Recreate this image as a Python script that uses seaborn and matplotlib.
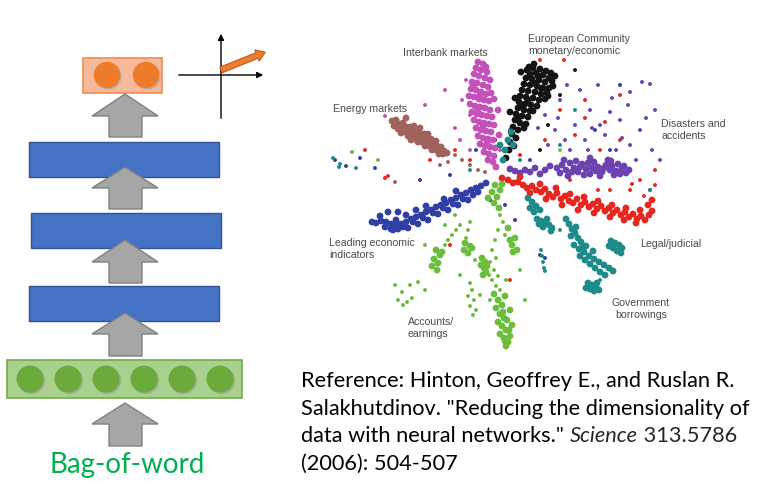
import matplotlib
matplotlib.use("Agg")
import matplotlib.pyplot as plt
import matplotlib.patches as mpatches
import seaborn as sns
import pandas as pd

# ---------------- data (pixel-like coordinates) ----------------
clusters = ["European Community", "Interbank", "Energy", "Disasters", "Legal",
            "Leading", "Accounts", "Government"]
palette = {
    "European Community": "#141414",
    "Interbank": "#c451b8",
    "Energy": "#a2625c",
    "Disasters": "#6b42b0",
    "Legal": "#e5281f",
    "Leading": "#2f3fa6",
    "Accounts": "#6cbd3d",
    "Government": "#1e8b8b",
}

# dense cores of each topic
ec_core = [(527,70),(533,68),(540,69),(546,71),(551,73),(530,74),(536,73),(543,75),(549,78),(526,78),
           (532,79),(539,80),(545,82),(552,81),(524,84),(530,85),(537,86),(543,88),(549,88),(522,90),
           (528,91),(535,92),(541,94),(547,93),(520,96),(526,97),(533,98),(539,100),(545,99),(519,102),
           (525,104),(531,105),(537,106),(518,108),(524,110),(530,111),(516,114),(522,116),(528,117),
           (515,120),(520,123),(526,124),(513,127),(518,130),(512,134),(516,138),(510,142),(514,146),
           (509,150),(506,158),(555,76),(521,72),(534,64),(553,86),(515,98),(548,96),(510,112),
           (529,67),(538,76),(534,83),(541,88),(528,100),(522,105),(533,111),(519,117),(524,128)]
interbank_core = [(478,62),(483,64),(486,67),(476,68),(481,70),(487,72),(474,74),(479,76),(485,78),(490,80),
                  (472,82),(477,83),(483,85),(488,87),(471,89),(476,90),(481,92),(486,94),(491,93),(469,96),
                  (474,97),(479,99),(484,100),(489,101),(494,99),(470,104),(475,106),(480,107),(485,108),
                  (490,110),(472,112),(477,114),(482,115),(487,116),(492,117),(474,120),(479,122),(484,123),
                  (489,124),(494,125),(476,128),(481,130),(486,131),(491,132),(478,136),(483,138),(488,139),
                  (493,140),(480,144),(485,146),(490,147),(495,148),(484,152),(489,154),(494,156),(488,160),
                  (493,162),(496,167),(498,110),(499,135),(473,86),(480,95),(478,111),(483,126),(487,143)]
energy_core = [(392,121),(396,120),(394,126),(399,124),(403,123),(398,129),(402,128),(406,127),(410,127),
               (401,133),(405,132),(409,131),(413,131),(417,130),(408,136),(412,135),(416,134),(420,134),
               (424,134),(411,140),(415,139),(419,138),(423,138),(427,138),(431,139),(418,142),(422,142),
               (426,141),(430,142),(434,143),(425,146),(429,146),(433,146),(437,146),(441,147),(432,150),
               (436,150),(440,150),(444,151),(439,154),(443,154),(447,153),(406,118),(414,126),(420,128),
               (428,134),(436,141)]
disasters_core = [(557,168),(562,165),(566,170),(570,163),(574,168),(578,172),(582,164),(586,169),(590,174),
                  (594,162),(598,167),(602,172),(606,165),(610,170),(614,175),(618,164),(622,169),(626,173),
                  (560,173),(568,176),(576,161),(584,175),(592,168),(600,176),(608,160),(616,171),(624,166),
                  (629,170),(572,172),(580,167),(588,163),(596,171),(604,168),(612,166),(620,174),(564,160),
                  (590,158),(611,161),(545,170),(540,174),(535,168),(530,172),(525,170),(520,173),(515,171),
                  (510,169),(550,166)]
legal_core = [(502,178),(508,180),(513,183),(518,182),(523,185),(527,188),(532,186),(536,190),(541,192),
              (545,189),(549,194),(553,197),(557,193),(561,199),(565,196),(569,201),(573,203),(577,199),
              (581,205),(585,202),(589,207),(593,204),(597,209),(601,206),(605,211),(609,208),(613,213),
              (617,210),(621,215),(625,212),(629,217),(633,214),(637,219),(641,216),(645,220),(649,215),
              (652,211),(540,184),(556,188),(570,194),(584,197),(598,201),(612,205),(626,208),(640,210),
              (530,193),(546,199),(562,205),(578,210),(594,213),(610,217),(624,220),(636,223),(520,177),
              (648,205),(652,200)]
leading_core = [(486,183),(481,186),(476,188),(471,190),(466,193),(461,195),(456,198),(451,200),(446,203),
                (441,205),(436,207),(431,210),(426,212),(421,215),(416,217),(411,219),(406,222),(401,224),
                (396,226),(391,224),(386,222),(381,221),(376,223),(473,195),(463,199),(453,204),(443,208),
                (433,213),(423,218),(413,222),(403,227),(398,229),(408,228),(418,224),(428,220),(438,214),
                (448,210),(458,205),(468,200),(478,192),(396,220),(406,215),(416,210),(426,206),(391,229),
                (385,227),(380,216),(388,212),(398,212),(372,222),(444,199),(456,191),(393,230)]
accounts_core = [(495,185),(500,190),(492,192),(497,197),(502,184),(488,198),(494,203),(499,208),
                 (436,250),(440,255),(434,259),(438,263),(432,266),(437,270),(442,252),
                 (465,243),(470,246),(464,250),(468,253),(472,248),
                 (482,258),(485,262),(481,265),(484,268),(486,272),(483,275),(487,266),
                 (508,228),(510,240),(512,245),(515,238),(517,250),(513,252),
                 (494,294),(498,300),(502,305),(496,308),(500,314),(504,318),(498,322),(502,326),
                 (506,330),(500,334),(504,338),(508,342),(506,346),(510,336),(507,320),(505,296),(510,310),
                 (512,325),(503,312),(509,330),(505,341)]
government_core = [(537,219),(541,221),(545,223),(549,225),(552,228),(543,227),(539,224),(547,219),(551,231),
                   (566,219),(569,224),(572,229),(575,233),(578,238),(581,242),(583,246),(571,236),(576,227),
                   (574,245),(579,249),(584,252),(589,256),(594,259),(599,262),(604,265),(609,268),(613,271),
                   (580,256),(585,260),(590,264),(595,268),(600,272),(605,275),(586,246),(593,251),
                   (611,241),(615,243),(619,245),(622,248),(613,248),(617,251),(621,253),(614,245),(609,246),
                   (588,283),(592,285),(596,287),(599,290),(590,289),(594,291),(597,283),(586,288),
                   (528,198),(532,202),(536,206),(540,210),(530,208),(534,212),
                   (505,150),(508,140),(511,132),(503,160),(500,145),(513,145)]

# sparse stray documents of each topic
ec_stray = [(540,150),(560,95),(575,70),(495,140),(548,125)]
interbank_stray = [(466,80),(470,115),(462,100),(455,128),(500,150),(425,105),(445,90),(385,116),
                   (460,140),(470,150)]
energy_stray = [(455,155),(462,160),(470,165),(478,170),(485,172),(448,162),(395,182),(440,165)]
disasters_stray = [(545,115),(560,100),(575,125),(590,110),(605,135),(620,120),(630,145),(612,98),
                   (585,140),(565,140),(640,130),(652,150),(642,82),(650,84),(598,85),(555,130),(628,105),
                   (580,90),(616,150),(600,125),(548,145),(660,160),(636,160),(655,110),(567,85),(592,128),
                   (622,138),(538,128),(646,118),(570,150),(610,112),(630,92),(588,150),(558,118)]
legal_stray = [(650,190),(560,110),(585,100),(620,140),(640,180),(655,185),(630,190),(600,150),(575,135),
               (540,60),(564,60),(545,140),(610,190),(520,155),(470,160),(455,150),(430,160),(450,245),
               (510,280),(620,95),(655,170),(385,178),(388,176),(365,150),(644,196),(632,184),(605,122),
               (585,118),(598,190),(570,180)]
leading_stray = [(490,200),(505,205),(515,220),(530,160),(450,175),(420,180),(540,255),(545,258),
                 (476,150),(620,85),(510,130),(335,160),(346,166),(360,158),(375,168),(595,130),(610,150)]
accounts_stray = [(460,225),(456,230),(452,235),(448,240),(445,245),(470,222),(468,230),(466,238),
                  (470,283),(472,290),(468,296),(474,300),(470,306),(476,310),(473,315),
                  (418,282),(410,285),(402,292),(398,300),(403,305),(412,298),(425,290),
                  (500,215),(503,222),(498,230),(505,235),(495,240),(492,250),(496,258),(490,262),(494,270),
                  (498,276),(492,280),(496,286),(500,290),(490,300),(489,275),(506,280),
                  (455,215),(475,260),(460,275),(425,245),(480,295),(520,270),(525,300),(445,225),
                  (378,160),(352,152),(560,150),(407,302),(395,285)]
government_stray = [(541,250),(542,256),(543,262),(544,268),(545,271),(520,160),(560,145),(340,164),
                    (356,168),(575,110),(650,190),(470,170),(333,158),(339,167),(600,280),(560,230)]

core_lists = [ec_core, interbank_core, energy_core, disasters_core, legal_core,
              leading_core, accounts_core, government_core]
stray_lists = [ec_stray, interbank_stray, energy_stray, disasters_stray, legal_stray,
               leading_stray, accounts_stray, government_stray]

scatter_labels = ["Interbank markets", "European Community\nmonetary/economic", "Energy markets",
                  "Disasters and\naccidents", "Leading economic\nindicators", "Legal/judicial",
                  "Government\nborrowings", "Accounts/\nearnings"]
reference_lines = ["Reference: Hinton, Geoffrey E., and Ruslan R.",
                   "Salakhutdinov. \"Reducing the dimensionality of",
                   "data with neural networks.\" ", "Science", " 313.5786",
                   "(2006): 504-507"]
input_label = "Bag-of-word"

# ---------------- figure ----------------
sns.set_theme(style="white")
plt.rcParams['font.family'] = ['Lato', 'DejaVu Sans']

fig = plt.figure(figsize=(7.62, 4.87), dpi=100)
ax = fig.add_axes([0, 0, 1, 1])


def to_frame(lists):
    rows = []
    for name, pts in zip(clusters, lists):
        for (x, y) in pts:
            rows.append({"x": x, "y": y, "topic": name})
    return pd.DataFrame(rows)


df_stray = to_frame(stray_lists)
df_core = to_frame(core_lists)
sns.scatterplot(data=df_stray, x="x", y="y", hue="topic", palette=palette, s=8,
                linewidth=0, legend=False, ax=ax, zorder=3)
sns.scatterplot(data=df_core, x="x", y="y", hue="topic", palette=palette, s=24,
                linewidth=0, legend=False, ax=ax, zorder=3)
ax.set_xlim(0, 762)
ax.set_ylim(487, 0)
ax.axis("off")

lab_kw = dict(fontsize=7.6, color="#4a4a4a", family=["Liberation Sans", "DejaVu Sans"],
              linespacing=1.35, va="center", zorder=5)
ax.text(403, 53, scatter_labels[0], ha="left", **lab_kw)
ax.text(528, 45, scatter_labels[1], ha="left", **lab_kw)
ax.text(333, 109, scatter_labels[2], ha="left", **lab_kw)
ax.text(661, 130, scatter_labels[3], ha="left", **lab_kw)
ax.text(329, 249, scatter_labels[4], ha="left", **lab_kw)
ax.text(640, 244, scatter_labels[5], ha="left", **lab_kw)
ax.text(641, 309, scatter_labels[6], ha="center", **lab_kw)
ax.text(408, 328, scatter_labels[7], ha="left", **lab_kw)

# ----- network diagram -----
def up_arrow(top, base, bottom):
    cx = 125
    poly = [(92, base), (cx, top), (158, base), (142, base), (142, bottom),
            (109, bottom), (109, base)]
    ax.add_patch(mpatches.Polygon(poly, closed=True, facecolor="#a6a6a6",
                                  edgecolor="#808080", lw=1, zorder=4))

# orange code layer
ax.add_patch(mpatches.Rectangle((83, 58), 79, 35, facecolor="#f6b99a", edgecolor="#f08c50",
                                lw=1.2, zorder=2))
for cx in (107, 146):
    ax.add_patch(mpatches.Circle((cx + 1.5, 76.5), 13.2, facecolor="#9a9a9a", alpha=0.5,
                                 edgecolor="none", zorder=2.5))
    ax.add_patch(mpatches.Circle((cx, 75), 13.2, facecolor="#ee7b2c", edgecolor="none", zorder=3))

# blue hidden layers
for (x0, y0) in [(29, 142), (31, 213), (29, 286)]:
    ax.add_patch(mpatches.Rectangle((x0, y0), 190, 35, facecolor="#4472c4",
                                    edgecolor="#2f5597", lw=1, zorder=2))

# green input layer
ax.add_patch(mpatches.Rectangle((7, 360), 235, 38, facecolor="#a9d18e", edgecolor="#70ad47",
                                lw=1.2, zorder=2))
for cx in (30, 68, 106, 144, 182, 220):
    ax.add_patch(mpatches.Circle((cx + 1.5, 380.5), 13.5, facecolor="#8a8a8a", alpha=0.5,
                                 edgecolor="none", zorder=2.5))
    ax.add_patch(mpatches.Circle((cx, 379), 13.5, facecolor="#6aab3b", edgecolor="none", zorder=3))

# gray arrows
for (t, b, bt) in [(94, 116, 137), (167, 188, 209), (240, 262, 283), (313, 334, 356), (403, 424, 446)]:
    up_arrow(t, b, bt)

# small coordinate system with code vector
ax.annotate("", xy=(266, 75), xytext=(176, 75),
            arrowprops=dict(arrowstyle="-|>", color="black", lw=1, mutation_scale=9), zorder=4)
ax.annotate("", xy=(221, 31), xytext=(221, 121),
            arrowprops=dict(arrowstyle="-|>", color="black", lw=1, mutation_scale=9), zorder=4)
ax.add_patch(mpatches.FancyArrow(221, 70, 36, -14.5, width=6, head_width=12, head_length=9,
                                 length_includes_head=False, facecolor="#ed7d31",
                                 edgecolor="#c55a11", lw=0.8, zorder=5))

ax.text(127, 465, input_label, ha="center", va="center", fontsize=20, color="#00b050",
        family=["Lato", "DejaVu Sans"])

# ----- reference text -----
fs = 15.7
ref_kw = dict(fontsize=fs, color="black", va="baseline", family=["Lato", "DejaVu Sans"])
ax.text(301, 387, reference_lines[0], ha="left", **ref_kw)
ax.text(301, 415, reference_lines[1], ha="left", **ref_kw)
t1 = ax.text(301, 442, reference_lines[2], ha="left", **ref_kw)
t2 = ax.annotate(reference_lines[3], xy=(1, 0), xycoords=t1, ha="left", va="bottom",
                 fontsize=fs, style="italic", family=["Lato", "DejaVu Sans"])
ax.annotate(reference_lines[4], xy=(1, 0), xycoords=t2, ha="left", va="bottom",
            fontsize=fs, family=["Lato", "DejaVu Sans"])
ax.text(301, 470, reference_lines[5], ha="left", **ref_kw)

fig.savefig("out.png", dpi=100)
